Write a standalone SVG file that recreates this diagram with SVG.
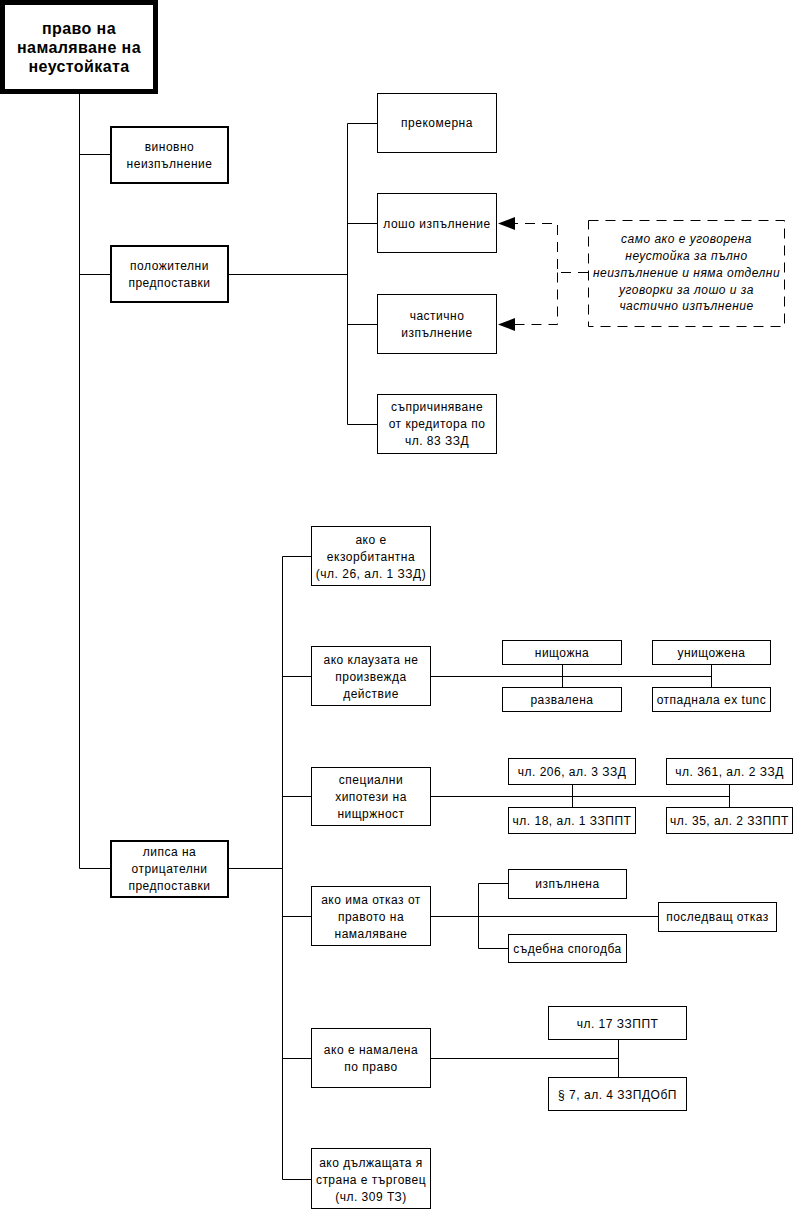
<svg xmlns="http://www.w3.org/2000/svg" width="795" height="1210" viewBox="0 0 795 1210">
<style>
  rect { fill: #fff; stroke: #000; stroke-width: 1; }
  rect.b { stroke-width: 2; }
  rect.root { stroke-width: 5; }
  rect.note { stroke-dasharray: 10 7; }
  text { font-family: "Liberation Sans", Arial, sans-serif; font-size: 12px; letter-spacing: 0.5px; text-anchor: middle; fill: #000; }
  text.r { font-size: 16px; font-weight: bold; letter-spacing: 0.4px; }
  text.i { font-style: italic; }
  #connectors path { fill: none; stroke: #000; stroke-width: 1; }
  #connectors path.d { stroke-dasharray: 10 7; }
</style>
<defs>
  <marker id="ah" markerUnits="userSpaceOnUse" viewBox="0 0 17 13" refX="0" refY="6.5" markerWidth="17" markerHeight="13" orient="auto">
    <polygon points="0,0 17,6.5 0,13" fill="#000"/>
  </marker>
</defs>

<g id="connectors">
  <path d="M79.5,94 V868.5 M79.5,154.5 H110 M79.5,274.5 H110 M79.5,868.5 H110"/>
  <path d="M229,274.5 H347.5 M347.5,123.5 V424.5 M347.5,123.5 H377 M347.5,223.5 H377 M347.5,324.5 H377 M347.5,424.5 H377"/>
  <path d="M229,868.5 H282.5 M282.5,556.5 V1179.5 M282.5,556.5 H311 M282.5,676.5 H311 M282.5,796.5 H311 M282.5,916.5 H311 M282.5,1058.5 H311 M282.5,1179.5 H311"/>
  <path d="M431,676.5 H711.5 M562.5,664 V687 M711.5,664 V687"/>
  <path d="M431,796.5 H729.5 M572.5,784 V807 M729.5,784 V807"/>
  <path d="M431,916.5 H658 M478.5,883.5 V948.5 M478.5,883.5 H508 M478.5,948.5 H508"/>
  <path d="M431,1058.5 H618.5 M618.5,1040 V1077"/>
  <path class="d" d="M588,272.5 H557.5 V223.5 H515" marker-end="url(#ah)"/>
  <path class="d" d="M557.5,272.5 V324.5 H515" marker-end="url(#ah)"/>
</g>

<g id="n-root"><rect class="root" x="2.5" y="2.5" width="153" height="89"/>
  <text class="r" x="79" y="34">право на</text><text class="r" x="79" y="53">намаляване на</text><text class="r" x="79" y="72">неустойката</text></g>

<g id="n-vinovno"><rect class="b" x="111" y="127" width="117" height="56"/>
  <text x="169.5" y="150.5">виновно</text><text x="169.5" y="167.5">неизпълнение</text></g>
<g id="n-polozhitelni"><rect class="b" x="111" y="246" width="117" height="56"/>
  <text x="169.5" y="269.5">положителни</text><text x="169.5" y="286.5">предпоставки</text></g>
<g id="n-lipsa"><rect class="b" x="111" y="841" width="117" height="56"/>
  <text x="169.5" y="856">липса на</text><text x="169.5" y="873">отрицателни</text><text x="169.5" y="890">предпоставки</text></g>

<g id="n-prekomerna"><rect x="377.5" y="93.5" width="119" height="59"/>
  <text x="437" y="127">прекомерна</text></g>
<g id="n-losho"><rect x="377.5" y="193.5" width="119" height="59"/>
  <text x="437" y="227.5">лошо изпълнение</text></g>
<g id="n-chastichno"><rect x="377.5" y="294.5" width="119" height="59"/>
  <text x="437" y="319.5">частично</text><text x="437" y="336.5">изпълнение</text></g>
<g id="n-saprichinyavane"><rect x="377.5" y="394.5" width="119" height="59"/>
  <text x="437" y="411">съпричиняване</text><text x="437" y="428">от кредитора по</text><text x="437" y="445">чл. 83 ЗЗД</text></g>

<g id="n-note"><rect class="note" x="588.5" y="220.5" width="196" height="106"/>
  <text class="i" x="686.5" y="243">само ако е уговорена</text>
  <text class="i" x="686.5" y="260">неустойка за пълно</text>
  <text class="i" x="686.5" y="277">неизпълнение и няма отделни</text>
  <text class="i" x="686.5" y="294">уговорки за лошо и за</text>
  <text class="i" x="686.5" y="310">частично изпълнение</text></g>

<g id="n-ekzorbitantna"><rect x="311.5" y="526.5" width="119" height="59"/>
  <text x="371" y="544">ако е</text><text x="371" y="561">екзорбитантна</text><text x="371" y="578">(чл. 26, ал. 1 ЗЗД)</text></g>
<g id="n-klauzata"><rect x="311.5" y="646.5" width="119" height="59"/>
  <text x="371" y="664">ако клаузата не</text><text x="371" y="681">произвежда</text><text x="371" y="698">действие</text></g>
<g id="n-nishtozhna"><rect x="502.5" y="640.5" width="119" height="24"/>
  <text x="562" y="657">нищожна</text></g>
<g id="n-razvalena"><rect x="502.5" y="687.5" width="119" height="24"/>
  <text x="562" y="704">развалена</text></g>
<g id="n-unishtozhena"><rect x="652.5" y="640.5" width="118" height="24"/>
  <text x="711.5" y="657">унищожена</text></g>
<g id="n-otpadnala"><rect x="652.5" y="687.5" width="118" height="24"/>
  <text x="711.5" y="704">отпаднала ex tunc</text></g>

<g id="n-spetsialni"><rect x="311.5" y="767.5" width="119" height="58"/>
  <text x="371" y="784">специални</text><text x="371" y="801">хипотези на</text><text x="371" y="818">нищржност</text></g>
<g id="n-chl206"><rect x="508.5" y="758.5" width="127" height="26"/>
  <text x="572" y="776">чл. 206, ал. 3 ЗЗД</text></g>
<g id="n-chl18"><rect x="508.5" y="807.5" width="127" height="26"/>
  <text x="572" y="825">чл. 18, ал. 1 ЗЗППТ</text></g>
<g id="n-chl361"><rect x="666.5" y="758.5" width="126" height="26"/>
  <text x="729.5" y="776">чл. 361, ал. 2 ЗЗД</text></g>
<g id="n-chl35"><rect x="666.5" y="807.5" width="126" height="26"/>
  <text x="729.5" y="825">чл. 35, ал. 2 ЗЗППТ</text></g>

<g id="n-otkaz"><rect x="311.5" y="886.5" width="119" height="59"/>
  <text x="371" y="904">ако има отказ от</text><text x="371" y="921">правото на</text><text x="371" y="938">намаляване</text></g>
<g id="n-izpalnena"><rect x="508.5" y="869.5" width="118" height="29"/>
  <text x="567.5" y="888">изпълнена</text></g>
<g id="n-sadebna"><rect x="508.5" y="934.5" width="118" height="28"/>
  <text x="567.5" y="953">съдебна спогодба</text></g>
<g id="n-posledvasht"><rect x="658.5" y="902.5" width="118" height="29"/>
  <text x="717.5" y="921">последващ отказ</text></g>

<g id="n-namalena"><rect x="311.5" y="1028.5" width="119" height="59"/>
  <text x="371" y="1054">ако е намалена</text><text x="371" y="1071">по право</text></g>
<g id="n-chl17"><rect x="548.5" y="1006.5" width="138" height="33"/>
  <text x="617.5" y="1027.5">чл. 17 ЗЗППТ</text></g>
<g id="n-par7"><rect x="548.5" y="1077.5" width="138" height="33"/>
  <text x="617.5" y="1098.5">§ 7, ал. 4 ЗЗПДОбП</text></g>

<g id="n-targovets"><rect x="311.5" y="1148.5" width="119" height="60"/>
  <text x="371" y="1167">ако дължащата я</text><text x="371" y="1184">страна е търговец</text><text x="371" y="1201">(чл. 309 ТЗ)</text></g>
</svg>
